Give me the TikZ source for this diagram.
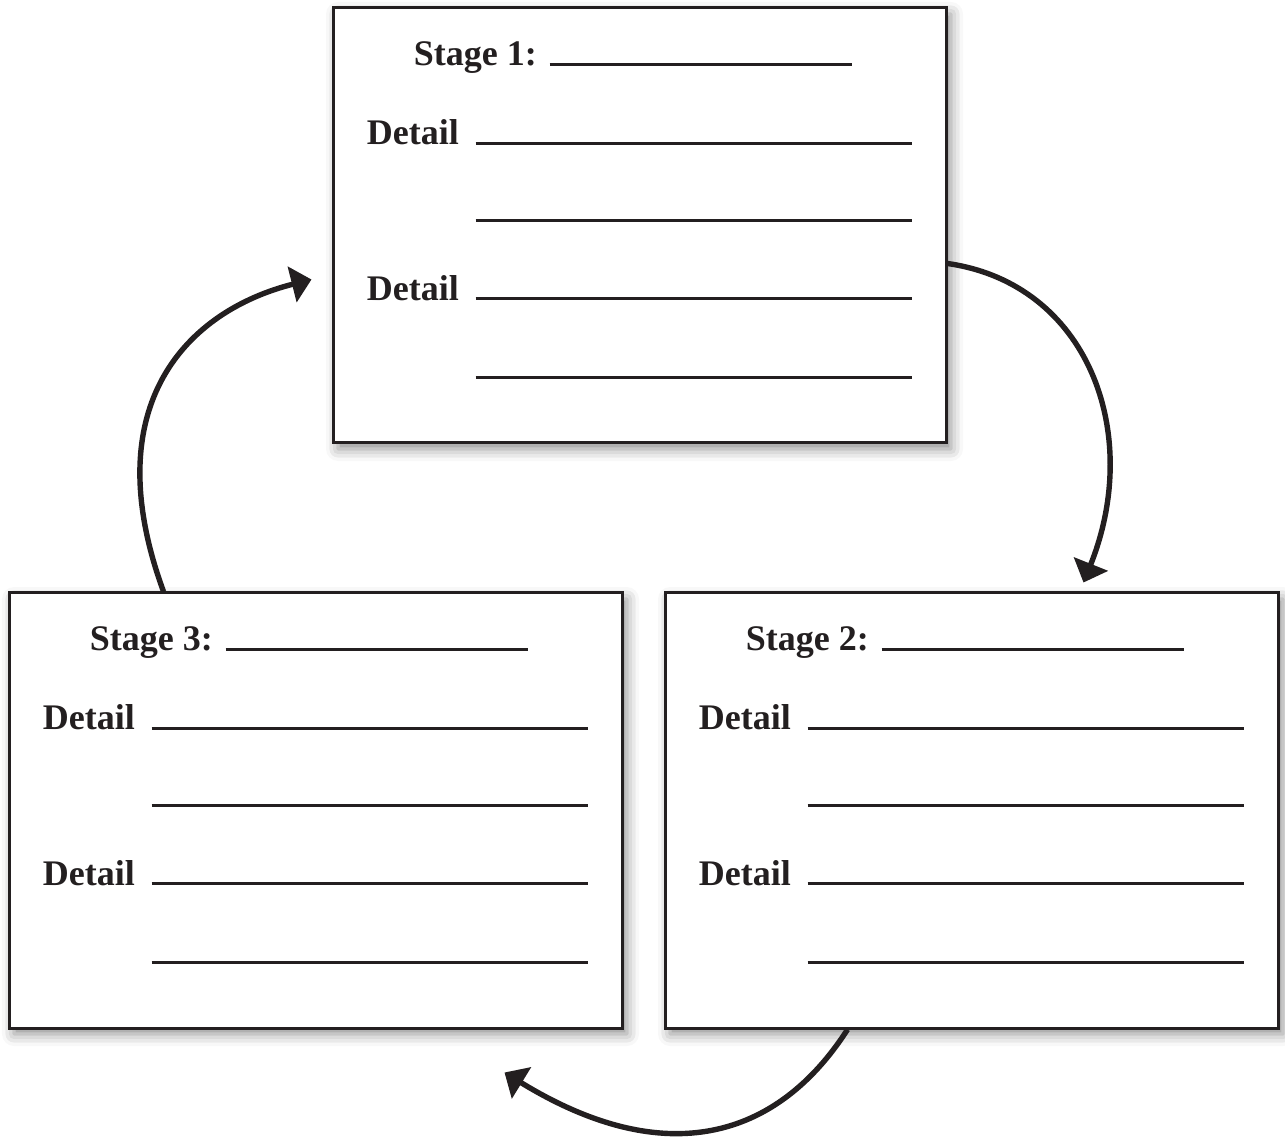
\documentclass[tikz,border=0pt]{standalone}
\usepackage{fontspec}
\setmainfont{Liberation Serif}
\usetikzlibrary{arrows.meta,shadows.blur}
\definecolor{ink}{RGB}{35,31,32}
\begin{document}
\begin{tikzpicture}[x=0.5pt,y=-0.5pt,>={Triangle[length=10pt,width=18pt]},
		stage node/.style={rectangle,draw=ink,line width=1.5pt,fill=white,inner sep=0pt,minimum width=306.5pt,minimum height=217.5pt,blur shadow={shadow xshift=2.5pt,shadow yshift=-3pt,shadow blur radius=6pt,shadow opacity=45}},
		label node/.style={inner sep=0pt,anchor=base west,text=ink,font=\fontsize{18}{20}\selectfont\bfseries},
		blank line/.style={draw=ink,line width=1.25pt},
		cycle arrow/.style={->,draw=ink,line width=2.7pt}]
		\useasboundingbox (0,0) rectangle (1285,1138);
		% 阶段
		\foreach \n/\x/\y in {1/333/8,2/665/593,3/9/593} {
			\node[stage node] (s\n) at (\x+306.5,\y+217.5) {};
			\node[label node] (t\n) at ([shift={(82,59)}]s\n.north west) {Stage \n:};
			\draw[blank line] ([shift={(218,58)}]s\n.north west) -- +(302,0);
			\node[label node] (d\n) at ([shift={(35,138)}]s\n.north west) {Detail};
			\node[label node] (e\n) at ([shift={(35,294)}]s\n.north west) {Detail};
			\foreach \d in {137,214,292,371}
				\draw[blank line] ([shift={(144,\d)}]s\n.north west) -- +(436,0);
		}
		\coordinate (a1) at ([xshift=56pt,yshift=4.5pt]s2.north);
		\coordinate (a2) at ([xshift=-59.5pt,yshift=-21.5pt]s3.south east);
		\coordinate (a3) at ([xshift=-10pt,yshift=-27pt]s1.west);
		\draw[cycle arrow] ([yshift=-19pt]s1.east) .. controls +(140,20) and +(60,-150) .. (a1);
		\draw[cycle arrow] ([xshift=-62pt]s2.south) .. controls +(-70,109) and +(161.5,99) .. (a2);
		\draw[cycle arrow] ([xshift=-76pt]s3.north) .. controls +(-69,-188) and +(-123,31) .. (a3);
\end{tikzpicture}
\end{document}
